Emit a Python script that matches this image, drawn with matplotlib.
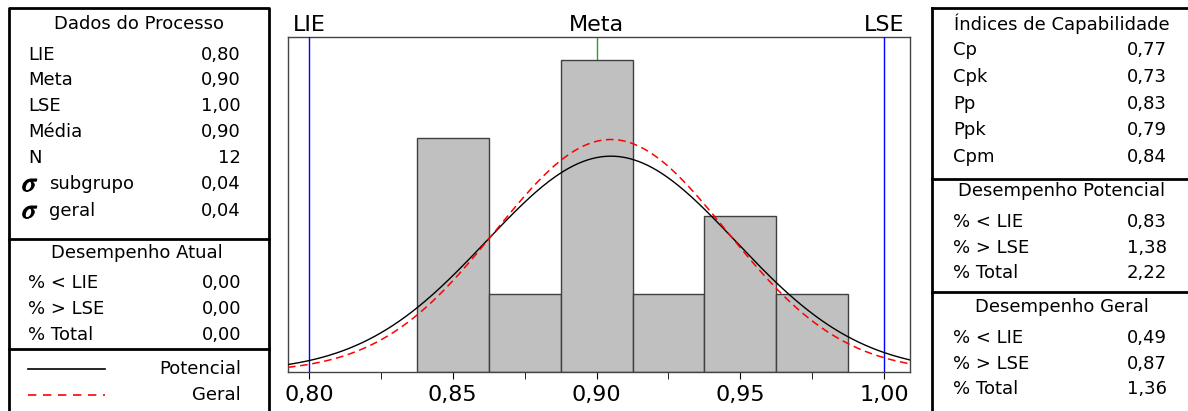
import numpy as np
import matplotlib.pyplot as plt
import matplotlib.patheffects as pe
from matplotlib.ticker import FixedLocator, FuncFormatter

plt.rcParams['font.family'] = ['DejaVu Sans']
plt.rcParams['mathtext.fontset'] = 'stix'

# histogram data
bin_centers = [0.85, 0.875, 0.90, 0.925, 0.95, 0.975]
counts = [3, 1, 4, 1, 2, 1]
bin_width = 0.025

# specification limits and fitted parameters
lie, meta, lse = 0.80, 0.90, 1.00
mean = 0.905
sigma_within = 0.0433
sigma_overall = 0.0402
n_obs = 12

process_labels = ['LIE', 'Meta', 'LSE', 'Média', 'N']
process_values = ['0,80', '0,90', '1,00', '0,90', '12']
sigma_labels = ['subgrupo', 'geral']
sigma_values = ['0,04', '0,04']

perf_labels = ['% < LIE', '% > LSE', '% Total']
actual_values = ['0,00', '0,00', '0,00']
potential_values = ['0,83', '1,38', '2,22']
overall_values = ['0,49', '0,87', '1,36']

index_labels = ['Cp', 'Cpk', 'Pp', 'Ppk', 'Cpm']
index_values = ['0,77', '0,73', '0,83', '0,79', '0,84']

W, H = 1188, 411
fig = plt.figure(figsize=(W / 100, H / 100), dpi=100)

# background overlay in pixel coordinates for the side panels
bg = fig.add_axes([0, 0, 1, 1], zorder=0)
bg.set_xlim(0, W)
bg.set_ylim(H, 0)
bg.axis('off')

fs = 13
lw = 2

# left panel box
bg.plot([9, 9, 269, 269], [H, 8, 8, H], color='black', lw=lw)
bg.plot([9, 269], [239, 239], color='black', lw=lw)
bg.plot([9, 269], [349, 349], color='black', lw=lw)

bg.text(139, 24, 'Dados do Processo', ha='center', va='center', fontsize=fs)
ys = [55, 80, 106, 132, 158]
for y, lab, val in zip(ys, process_labels, process_values):
    bg.text(28, y, lab, ha='left', va='center', fontsize=fs)
    bg.text(241, y, val, ha='right', va='center', fontsize=fs)
for y, lab, val in zip([184, 211], sigma_labels, sigma_values):
    bg.text(22, y - 1, r'$\sigma$', ha='left', va='center', fontsize=20,
            path_effects=[pe.withStroke(linewidth=0.8, foreground='black')])
    bg.text(49, y, lab, ha='left', va='center', fontsize=fs)
    bg.text(241, y, val, ha='right', va='center', fontsize=fs)

bg.text(137, 253, 'Desempenho Atual', ha='center', va='center', fontsize=fs)
for y, lab, val in zip([283, 309, 335], perf_labels, actual_values):
    bg.text(28, y, lab, ha='left', va='center', fontsize=fs)
    bg.text(241, y, val, ha='right', va='center', fontsize=fs)

bg.plot([28, 105], [369, 369], color='black', lw=1.2)
bg.plot([28, 105], [395, 395], color='red', lw=1.2, ls=(0, (5, 4)))
bg.text(241, 369, 'Potencial', ha='right', va='center', fontsize=fs)
bg.text(241, 395, 'Geral', ha='right', va='center', fontsize=fs)

# right panel box
bg.plot([932, 932], [H, 8], color='black', lw=lw)
bg.plot([932, W], [8, 8], color='black', lw=lw)
bg.plot([932, W], [179, 179], color='black', lw=lw)
bg.plot([932, W], [292, 292], color='black', lw=lw)

bg.text(1062, 24, 'Índices de Capabilidade', ha='center', va='center', fontsize=fs)
for y, lab, val in zip([50, 77, 104, 130, 157], index_labels, index_values):
    bg.text(953, y, lab, ha='left', va='center', fontsize=fs)
    bg.text(1167, y, val, ha='right', va='center', fontsize=fs)

bg.text(1062, 191, 'Desempenho Potencial', ha='center', va='center', fontsize=fs)
for y, lab, val in zip([222, 248, 273], perf_labels, potential_values):
    bg.text(953, y, lab, ha='left', va='center', fontsize=fs)
    bg.text(1167, y, val, ha='right', va='center', fontsize=fs)

bg.text(1062, 307, 'Desempenho Geral', ha='center', va='center', fontsize=fs)
for y, lab, val in zip([338, 364, 389], perf_labels, overall_values):
    bg.text(953, y, lab, ha='left', va='center', fontsize=fs)
    bg.text(1167, y, val, ha='right', va='center', fontsize=fs)

# main histogram
ax = fig.add_axes([288 / W, (H - 372) / H, 622 / W, 335 / H], zorder=1)
ax.bar(bin_centers, counts, width=bin_width, color='#c0c0c0',
       edgecolor='#404040', linewidth=1, zorder=2)

x = np.linspace(0.7927, 1.009, 400)
scale = n_obs * bin_width
pdf_within = scale * np.exp(-0.5 * ((x - mean) / sigma_within) ** 2) / (sigma_within * np.sqrt(2 * np.pi))
pdf_overall = scale * np.exp(-0.5 * ((x - mean) / sigma_overall) ** 2) / (sigma_overall * np.sqrt(2 * np.pi))
ax.plot(x, pdf_within, color='black', lw=1, zorder=4)
ax.plot(x, pdf_overall, color='red', lw=1.1, ls=(0, (5, 3)), zorder=4)

ax.axvline(lie, color='blue', lw=1, zorder=3)
ax.axvline(lse, color='blue', lw=1, zorder=3)
ax.axvline(meta, color='#2ca02c', lw=1, zorder=1)

ax.set_xlim(0.7927, 1.009)
ax.set_ylim(0, 4.29)
ax.set_yticks([])
ax.xaxis.set_major_locator(FixedLocator([0.80, 0.85, 0.90, 0.95, 1.00]))
ax.xaxis.set_minor_locator(FixedLocator([0.825, 0.875, 0.925, 0.975]))
ax.xaxis.set_major_formatter(FuncFormatter(lambda v, p: f'{v:.2f}'.replace('.', ',')))
ax.tick_params(axis='x', which='both', direction='out', length=5, labelsize=16, pad=4)
for s in ax.spines.values():
    s.set_color('#444444')
    s.set_linewidth(1)

for xv, lab in zip([lie, meta, lse], ['LIE', 'Meta', 'LSE']):
    ax.text(xv, 1.005, lab, transform=ax.get_xaxis_transform(), ha='center',
            va='bottom', fontsize=16)

fig.savefig('out.png', dpi=100)
